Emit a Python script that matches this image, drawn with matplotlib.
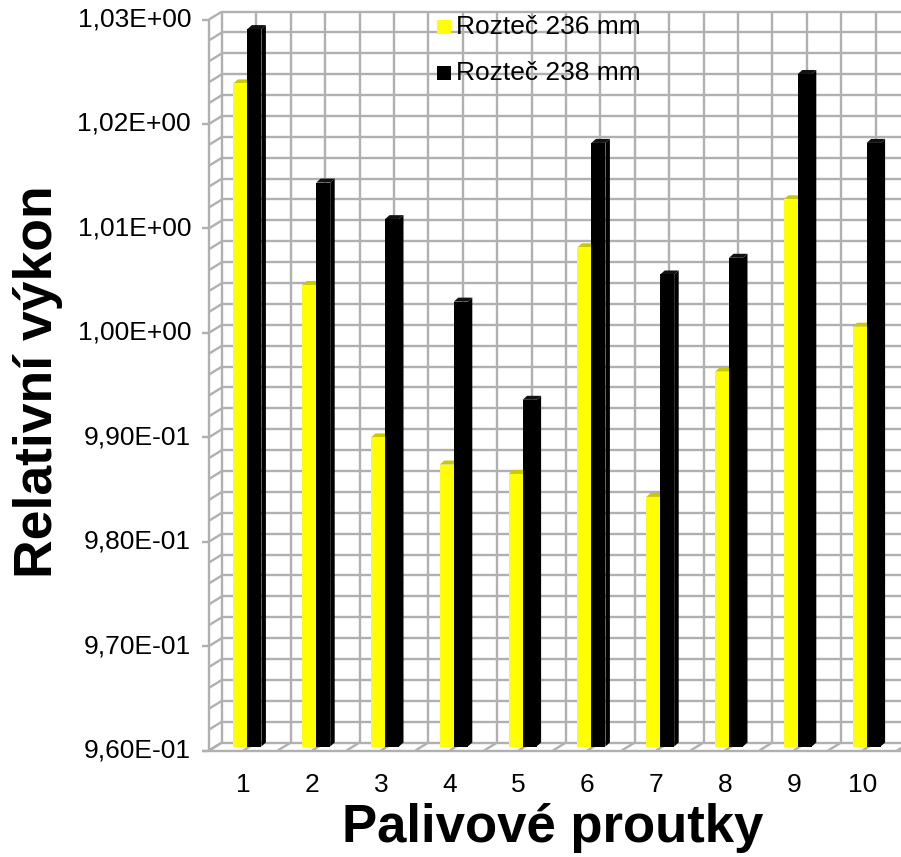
import matplotlib
matplotlib.use("Agg")
import matplotlib.pyplot as plt
from matplotlib.patches import Polygon, Rectangle
from matplotlib.transforms import blended_transform_factory
import numpy as np

# ---- data -------------------------------------------------------------
categories = ["1", "2", "3", "4", "5", "6", "7", "8", "9", "10"]
series_names = ["Rozteč 236 mm", "Rozteč 238 mm"]
pitch_236 = [1.0235, 1.0042, 0.9896, 0.9870, 0.9861, 1.0078, 0.9839, 0.9959, 1.0124, 1.0002]
pitch_238 = [1.0287, 1.0140, 1.0105, 1.0026, 0.9932, 1.0178, 1.0052, 1.0068, 1.0244, 1.0178]
y_ticks = [0.96, 0.97, 0.98, 0.99, 1.00, 1.01, 1.02, 1.03]
y_tick_labels = ["9,60E-01", "9,70E-01", "9,80E-01", "9,90E-01",
                 "1,00E+00", "1,01E+00", "1,02E+00", "1,03E+00"]
x_title = "Palivové proutky"
y_title = "Relativní výkon"

# ---- styling ----------------------------------------------------------
W, H = 901, 857
FONT = "Liberation Sans"
GRID = "#b0b0b0"
LW = 1.7
front_colors = ["#ffff00", "#000000"]
top_colors = ["#c9c900", "#111111"]
side_colors = ["#b5b500", "#000000"]

fig = plt.figure(figsize=(W / 100, H / 100), dpi=100)
fig.patch.set_facecolor("white")

# front plane of the plot box (pixel geometry)
left_px, right_px, top_px, bottom_px = 209, 901, 19.5, 750.5
cat_px = 68.8
ax = fig.add_axes([left_px / W, 1 - bottom_px / H,
                   (right_px - left_px) / W, (bottom_px - top_px) / H])
ymin, ymax = y_ticks[0], y_ticks[-1]
xmin = 0.5
xmax = xmin + (right_px - left_px) / cat_px
ax.set_xlim(xmin, xmax)
ax.set_ylim(ymin, ymax)
ax.axis("off")

ux = (xmax - xmin) / (right_px - left_px)   # data units per pixel (x)
uy = (ymax - ymin) / (bottom_px - top_px)   # data units per pixel (y)

# depth of the walls
wdx, wdy = 13 * ux, 8 * uy

def line(xs, ys, **kw):
    ax.plot(xs, ys, color=GRID, lw=LW, clip_on=False, solid_capstyle="butt", zorder=1, **kw)

levels = np.round(np.arange(ymin, ymax + 1e-9, 0.002), 4)
n_cat = len(categories)
x_edges = [xmin + 0.5 * k for k in range(2 * n_cat + 2)]

# back wall
for v in levels:
    line([xmin + wdx, xmax + wdx + 1], [v + wdy, v + wdy])
for xe in x_edges:
    line([xe + wdx, xe + wdx], [ymin + wdy, ymax + wdy])
# side wall
line([xmin, xmin], [ymin, ymax])
for v in levels:
    line([xmin, xmin + wdx], [v, v + wdy])
# floor
line([xmin - 7 * ux, xmax + 1], [ymin, ymin])
for xe in x_edges:
    line([xe, xe + wdx], [ymin, ymin + wdy])
# y tick marks
for v in y_ticks:
    line([xmin - 7 * ux, xmin], [v, v])

# ---- 3D columns -------------------------------------------------------
bar_w = 14 * ux
offsets = [-10 * ux, 4 * ux]
oy = 4 * uy
ddx, ddy = 4.5 * ux, 4 * uy
for s, vals in enumerate([pitch_236, pitch_238]):
    for i, v in enumerate(vals):
        cx = i + 1
        x0 = cx + offsets[s]
        x1 = x0 + bar_w
        b = ymin + oy
        t = v + oy
        ax.add_patch(Polygon([(x1, b), (x1 + ddx, b + ddy), (x1 + ddx, t + ddy), (x1, t)],
                             closed=True, facecolor=side_colors[s], edgecolor="none",
                             clip_on=False, zorder=3 + s))
        ax.add_patch(Polygon([(x0, t), (x1, t), (x1 + ddx, t + ddy), (x0 + ddx, t + ddy)],
                             closed=True, facecolor=top_colors[s], edgecolor="none",
                             clip_on=False, zorder=3 + s))
        ax.add_patch(Rectangle((x0, b), bar_w, t - b, facecolor=front_colors[s],
                               edgecolor="none", clip_on=False, zorder=3 + s))

# ---- tick labels --------------------------------------------------------
ytr = blended_transform_factory(fig.transFigure, ax.transData)
for v, lab in zip(y_ticks, y_tick_labels):
    ax.text(191 / W, v, lab, transform=ytr, ha="right", va="center",
            fontsize=19, family=FONT, color="black")
xtr = blended_transform_factory(ax.transData, fig.transFigure)
for i, lab in enumerate(categories):
    ax.text(i + 1, 1 - 785 / H, lab, transform=xtr, ha="center", va="center",
            fontsize=19, family=FONT, color="black")

# ---- axis titles --------------------------------------------------------
fig.text(553 / W, 1 - 828 / H, x_title, ha="center", va="center",
         fontsize=38, fontweight="bold", family=FONT)
fig.text(38 / W, 1 - 382 / H, y_title, ha="center", va="center", rotation=90,
         fontsize=38.5, fontweight="bold", family=FONT)

# ---- legend -------------------------------------------------------------
leg_y = [27, 73]
for s, name in enumerate(series_names):
    fig.patches.append(Rectangle((437 / W, 1 - (leg_y[s] + 6.5) / H), 13.5 / W, 13.5 / H,
                                 transform=fig.transFigure, facecolor=front_colors[s],
                                 edgecolor="none"))
    fig.text(456 / W, 1 - leg_y[s] / H, name, ha="left", va="center",
             fontsize=19, family=FONT, color="black")

fig.savefig("out.png", dpi=100, facecolor="white")
